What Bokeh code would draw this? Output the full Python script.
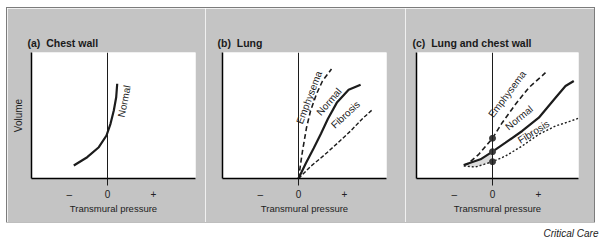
from bokeh.plotting import figure
from bokeh.models import Range1d, FixedTicker, Span, Label, Spacer
from bokeh.layouts import row, column
from bokeh.core.properties import value
from bokeh.embed import file_html
from bokeh.resources import INLINE

FONT = "Liberation Sans"
GRAY = "#c4c4c4"
INK = "#1c1c1c"

TICKS = [-0.83, 0, 1]
TICK_LABELS = ["–", "0", "+"]
XLABEL = "Transmural pressure"
YLABEL = "Volume"
PANEL_TITLES = ["(a)\u00a0\u00a0Chest wall", "(b)\u00a0\u00a0Lung", "(c)\u00a0\u00a0Lung and chest wall"]
SOURCE = "Critical Care"

# (a) Chest wall
a_normal_x = [-0.733, -0.441, -0.189, -0.022, 0.065, 0.137, 0.189, 0.211]
a_normal_y = [0.283, 0.463, 0.680, 0.935, 1.189, 1.478, 1.767, 2.059]

# (b) Lung
b_emph_x = [0, 0.087, 0.174, 0.261, 0.391, 0.522, 0.717]
b_emph_y = [0, 0.598, 1.104, 1.467, 1.837, 2.120, 2.380]
b_norm_x = [0, 0.16, 0.33, 0.49, 0.64, 0.84, 1.09, 1.35]
b_norm_y = [0, 0.33, 0.66, 0.98, 1.30, 1.66, 1.93, 2.04]
b_fib_x = [0, 0.26, 0.55, 0.84, 1.13, 1.39, 1.60]
b_fib_y = [0, 0.26, 0.50, 0.76, 1.03, 1.30, 1.49]

# (c) Lung and chest wall
c_emph_x = [-0.624, -0.550, -0.298, 0, 0.211, 0.500, 0.789, 1.152]
c_emph_y = [0.293, 0.309, 0.526, 0.874, 1.213, 1.613, 1.974, 2.300]
c_norm_x = [-0.624, -0.261, 0, 0.283, 0.646, 1.007, 1.370, 1.587, 1.767]
c_norm_y = [0.293, 0.417, 0.583, 0.778, 1.033, 1.322, 1.757, 2.011, 2.120]
c_fib_x = [-0.624, -0.370, 0, 0.283, 0.646, 1.007, 1.370, 1.659, 1.950]
c_fib_y = [0.272, 0.250, 0.365, 0.489, 0.707, 0.961, 1.141, 1.235, 1.337]
c_dot_x = [0, 0, 0]
c_dot_y = [0.874, 0.583, 0.365]

# curve labels: text, x, y, angle (deg)
a_lab_text = ["Normal"]
a_lab_x = [0.363]
a_lab_y = [1.680]
a_lab_ang = [79]
b_lab_text = ["Emphysema", "Normal", "Fibrosis"]
b_lab_x = [0.230, 0.663, 1.020]
b_lab_y = [1.761, 1.670, 1.389]
b_lab_ang = [69, 49, 43]
c_lab_text = ["Emphysema", "Normal", "Fibrosis"]
c_lab_x = [0.320, 0.578, 0.893]
c_lab_y = [1.837, 1.320, 1.015]
c_lab_ang = [53, 39, 32]

PX = 46.0  # pixels per data unit


def make_panel(width, b_left, b_right, frame_w, title, title_dx, ylabel=None):
    p = figure(width=width, height=214,
               x_range=Range1d(-76 / PX, (frame_w - 76) / PX),
               y_range=Range1d(0, 126 / PX),
               output_backend="svg", toolbar_location=None,
               min_border_left=b_left, min_border_right=b_right,
               min_border_top=44, min_border_bottom=44,
               background_fill_color="white", border_fill_color=GRAY,
               outline_line_color=None, title=title)
    p.title.text_font = FONT
    p.title.text_font_style = "bold"
    p.title.text_font_size = "10.5px"
    p.title.text_color = "#1a1a1a"
    p.title.align = "left"
    p.title.offset = title_dx
    p.title.standoff = 8

    p.xgrid.visible = False
    p.ygrid.visible = False

    xa = p.xaxis[0]
    xa.ticker = FixedTicker(ticks=TICKS, minor_ticks=[0])
    xa.major_label_overrides = {t: l for t, l in zip(TICKS, TICK_LABELS)}
    xa.major_tick_line_color = None
    xa.major_tick_out = 0
    xa.major_tick_in = 0
    xa.minor_tick_line_color = INK
    xa.minor_tick_out = 7
    xa.minor_tick_in = 0
    xa.major_label_standoff = 3
    xa.major_label_text_font = FONT
    xa.major_label_text_font_size = "10px"
    xa.major_label_text_color = "#222222"
    xa.axis_label = XLABEL
    xa.axis_label_text_font = FONT
    xa.axis_label_text_font_style = "normal"
    xa.axis_label_text_font_size = "9.5px"
    xa.axis_label_text_color = "#222222"
    xa.axis_label_standoff = 0
    xa.axis_line_color = "black"
    xa.axis_line_width = 1.5

    ya = p.yaxis[0]
    ya.ticker = FixedTicker(ticks=[])
    ya.major_tick_line_color = None
    ya.minor_tick_line_color = None
    ya.major_tick_out = 0
    ya.major_label_standoff = 0
    ya.axis_line_color = "black"
    ya.axis_line_width = 1.5
    if ylabel:
        ya.axis_label = ylabel
        ya.axis_label_text_font = FONT
        ya.axis_label_text_font_style = "normal"
        ya.axis_label_text_font_size = "10px"
        ya.axis_label_text_color = "#222222"
        ya.axis_label_standoff = 8

    p.add_layout(Span(location=0, dimension="height", line_color=INK, line_width=1))
    return p


def add_labels(p, texts, xs, ys, angs):
    p.text(x=xs, y=ys, text=texts, angle=angs, angle_units="deg",
           text_font=value(FONT), text_font_size="10px", text_color=INK,
           text_align="center", text_baseline="middle")


# Panel (a)
pa = make_panel(198, 24, 10, 164, PANEL_TITLES[0], -4, ylabel=YLABEL)
pa.line(a_normal_x, a_normal_y, line_color=INK, line_width=2.2)
add_labels(pa, a_lab_text, a_lab_x, a_lab_y, a_lab_ang)

# Panel (b)
pb = make_panel(200, 17, 19, 164, PANEL_TITLES[1], -5)
pb.line(b_emph_x, b_emph_y, line_color=INK, line_width=1.6, line_dash="5 3")
pb.line(b_norm_x, b_norm_y, line_color=INK, line_width=2.2)
pb.line(b_fib_x, b_fib_y, line_color=INK, line_width=1.4, line_dash="4 2")
add_labels(pb, b_lab_text, b_lab_x, b_lab_y, b_lab_ang)

# Panel (c)
pc = make_panel(189, 11, 16, 162, PANEL_TITLES[2], -4)
shade_x = c_norm_x[:3] + c_fib_x[:3][::-1]
shade_y = c_norm_y[:3] + c_fib_y[:3][::-1]
pc.patch(shade_x, shade_y, fill_color="#dcdcdc", line_color=None)
pc.line(c_emph_x, c_emph_y, line_color=INK, line_width=1.6, line_dash="5 3")
pc.line(c_norm_x, c_norm_y, line_color=INK, line_width=2.2)
pc.line(c_fib_x, c_fib_y, line_color=INK, line_width=1.4, line_dash="2 2")
pc.scatter(c_dot_x, c_dot_y, size=6, fill_color="#3a3a3a", line_color="#3a3a3a")
add_labels(pc, c_lab_text, c_lab_x, c_lab_y, c_lab_ang)

# Footer with source credit
foot = figure(width=600, height=19, x_range=Range1d(0, 1), y_range=Range1d(0, 1),
              output_backend="svg", toolbar_location=None,
              x_axis_location=None, y_axis_location=None,
              min_border=0, outline_line_color=None,
              background_fill_color="white", border_fill_color="white")
foot.xgrid.visible = False
foot.ygrid.visible = False
foot.add_layout(Label(x=598, y=8, x_units="screen", y_units="screen", text=SOURCE,
                      text_font=FONT, text_font_style="italic", text_font_size="10px",
                      text_color="#222222", text_align="right", text_baseline="middle"))

panels = row(pa, pb, pc, styles={"outline": "1px solid #7c7c7c", "outline-offset": "0px"})
layout = column(Spacer(width=600, height=8), row(Spacer(width=7, height=214), panels), foot)

open("out.html", "w").write(file_html(layout, INLINE))
